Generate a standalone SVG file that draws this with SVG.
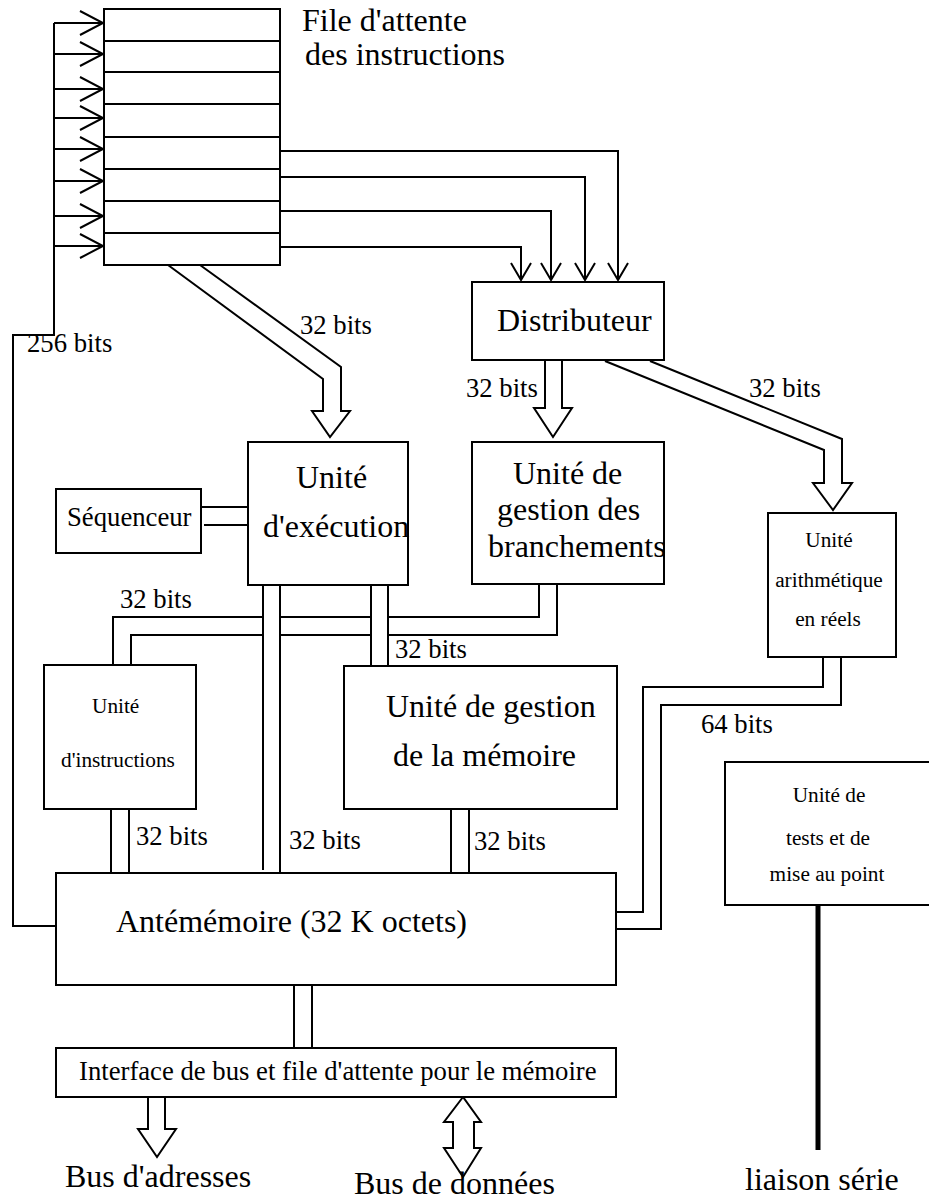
<svg xmlns="http://www.w3.org/2000/svg" width="929" height="1202" viewBox="0 0 929 1202">
<style>
.box{fill:#fff;stroke:#000;stroke-width:2}
.ln{fill:none;stroke:#000;stroke-width:2}
.ha{fill:#fff;stroke:#000;stroke-width:2;stroke-linejoin:miter}
.thick{fill:none;stroke:#000;stroke-width:5}
text{font-family:"Liberation Serif","Times New Roman",serif;fill:#000}
.t32{font-size:32px}
.t27{font-size:26.7px}
.t21{font-size:21.3px}
.mid{text-anchor:middle}
</style>
<rect width="929" height="1202" fill="#fff"/>

<g id="connectors">
  <!-- queue inputs -->
  <path class="ln" d="M54,23 V335 H13 V926 H56"/>
  <path class="ln" d="M54,23 H103 M80,11 L103,23 L80,35"/>
  <path class="ln" d="M54,54 H103 M80,42 L103,54 L80,66"/>
  <path class="ln" d="M54,89 H103 M80,77 L103,89 L80,101"/>
  <path class="ln" d="M54,118 H103 M80,106 L103,118 L80,130"/>
  <path class="ln" d="M54,149 H103 M80,137 L103,149 L80,161"/>
  <path class="ln" d="M54,181 H103 M80,169 L103,181 L80,193"/>
  <path class="ln" d="M54,216 H103 M80,204 L103,216 L80,228"/>
  <path class="ln" d="M54,246 H103 M80,234 L103,246 L80,258"/>
  <!-- queue to distributeur -->
  <path class="ln" d="M280,151 H618 V280 M608,263 L618,280 L628,263"/>
  <path class="ln" d="M280,177 H585 V280 M575,263 L585,280 L595,263"/>
  <path class="ln" d="M280,211 H551 V280 M541,263 L551,280 L561,263"/>
  <path class="ln" d="M280,247 H521 V280 M511,263 L521,280 L531,263"/>
  <!-- hollow arrows -->
  <path class="ha" d="M168,265 L323,379 V411 H312 L330,437 L350,411 H341 V367 L200,265"/>
  <path class="ha" d="M545,360 V408 H534 L553,437 L572,408 H562 V360"/>
  <path class="ha" d="M605,361 L824,450 V483 H813 L833,510 L852,483 H842 V439 L650,361"/>
  <!-- sequenceur to exec -->
  <path class="ln" d="M201,507 H248 M204,525 H248"/>
  <!-- exec down -->
  <path class="ln" d="M263,583 V870 M280,585 V873"/>
  <path class="ln" d="M371,585 V666 M388,585 V666"/>
  <!-- branch to instr -->
  <path class="ln" d="M113,665 V617 H263 M280,617 H371 M388,617 H539 V585"/>
  <path class="ln" d="M131,665 V635 H263 M280,635 H371 M388,635 H557 V585"/>
  <!-- to antememoire -->
  <path class="ln" d="M111,809 V873 M129,809 V873"/>
  <path class="ln" d="M451,809 V873 M469,809 V873"/>
  <path class="ln" d="M823,657 V687 H643 V912 H616 M841,657 V705 H661 V929 H616"/>
  <!-- ante to interface -->
  <path class="ln" d="M294,985 V1048 M312,985 V1048"/>
  <!-- buses -->
  <path class="ha" d="M148,1097 V1129 H138 L157,1157 L176,1129 H165 V1097"/>
  <path class="ha" d="M463,1097 L444,1122 H453 V1148 H444 L463,1177 L481,1148 H474 V1122 H481 Z"/>
  <path class="thick" d="M818,905 V1150"/>
</g>

<g id="queue">
  <rect class="box" x="104" y="9" width="176" height="256"/>
  <path class="ln" d="M104,41 H280 M104,72 H280 M104,104 H280 M104,137 H280 M104,169 H280 M104,201 H280 M104,233 H280"/>
  <text class="t32" x="302" y="31">File d'attente</text>
  <text class="t32" x="305" y="65">des instructions</text>
</g>

<g id="distributeur">
  <rect class="box" x="472" y="282" width="192" height="78"/>
  <text class="t32" x="497" y="331">Distributeur</text>
</g>

<g id="sequenceur">
  <rect class="box" x="56" y="489" width="145" height="64"/>
  <text class="t27" x="67" y="526">Séquenceur</text>
</g>

<g id="execution">
  <rect class="box" x="248" y="442" width="160" height="143"/>
  <text class="t32" x="296" y="488">Unité</text>
  <text class="t32" x="263" y="537">d'exécution</text>
</g>

<g id="branchements">
  <rect class="box" x="472" y="442" width="192" height="142"/>
  <text class="t32" x="513" y="484">Unité de</text>
  <text class="t32" x="497" y="520">gestion des</text>
  <text class="t32" x="488" y="557">branchements</text>
</g>

<g id="arithmetique">
  <rect class="box" x="768" y="513" width="128" height="144"/>
  <text class="t21 mid" x="829" y="547">Unité</text>
  <text class="t21 mid" x="829" y="587">arithmétique</text>
  <text class="t21 mid" x="828" y="626">en réels</text>
</g>

<g id="instructions">
  <rect class="box" x="44" y="665" width="152" height="144"/>
  <text class="t21" x="92" y="713">Unité</text>
  <text class="t21" x="61" y="767">d'instructions</text>
</g>

<g id="memoire">
  <rect class="box" x="344" y="666" width="273" height="143"/>
  <text class="t32" x="386" y="717">Unité de gestion</text>
  <text class="t32" x="393" y="766">de la mémoire</text>
</g>

<g id="tests">
  <rect class="box" x="725" y="762" width="212" height="143"/>
  <text class="t21 mid" x="829" y="802">Unité de</text>
  <text class="t21 mid" x="828" y="845">tests et de</text>
  <text class="t21 mid" x="827" y="881">mise au point</text>
</g>

<g id="antememoire">
  <rect class="box" x="56" y="873" width="560" height="112"/>
  <text class="t32" x="116" y="932">Antémémoire (32 K octets)</text>
</g>

<g id="interface">
  <rect class="box" x="56" y="1048" width="560" height="49"/>
  <text class="t27" x="79" y="1080">Interface de bus et file d'attente pour le mémoire</text>
</g>

<g id="labels">
  <text class="t27" x="300" y="334">32 bits</text>
  <text class="t27" x="466" y="397">32 bits</text>
  <text class="t27" x="749" y="397">32 bits</text>
  <text class="t27" x="27" y="352">256 bits</text>
  <text class="t27" x="120" y="608">32 bits</text>
  <text class="t27" x="395" y="658">32 bits</text>
  <text class="t27" x="701" y="733">64 bits</text>
  <text class="t27" x="136" y="845">32 bits</text>
  <text class="t27" x="289" y="849">32 bits</text>
  <text class="t27" x="474" y="850">32 bits</text>
  <text class="t32" x="65" y="1187">Bus d'adresses</text>
  <text class="t32" x="354" y="1194">Bus de données</text>
  <text class="t32" x="745" y="1190">liaison série</text>
</g>
</svg>
